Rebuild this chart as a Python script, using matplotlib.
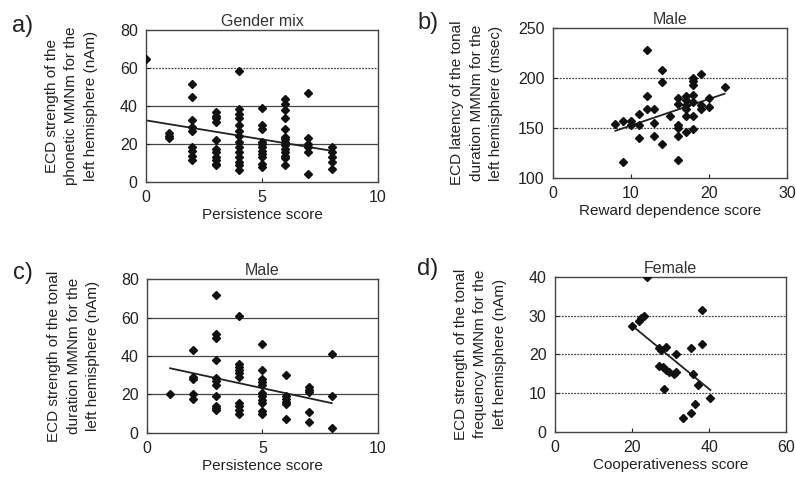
import numpy as np
import matplotlib
matplotlib.use("Agg")
import matplotlib.pyplot as plt

plt.rcParams['font.family'] = ['Liberation Sans', 'DejaVu Sans']

# Panel a: gender mix, persistence vs phonetic MMNm strength
a_x = [0, 1, 1, 1,
       2, 2, 2, 2, 2, 2, 2, 2, 2,
       3, 3, 3, 3, 3, 3, 3, 3, 3, 3, 3,
       4, 4, 4, 4, 4, 4, 4, 4, 4, 4, 4, 4, 4, 4,
       5, 5, 5, 5, 5, 5, 5, 5, 5, 5, 5,
       6, 6, 6, 6, 6, 6, 6, 6, 6, 6, 6, 6, 6, 6,
       7, 7, 7, 7, 7, 7,
       8, 8, 8, 8, 8]
a_y = [65, 26, 24.5, 23,
       51.5, 45, 32.5, 29, 27, 18.5, 16.5, 14, 11.5,
       37, 35, 33.5, 31.5, 22, 17.5, 16, 13, 11.5, 9.5, 9,
       58.5, 38.5, 36, 33.5, 30, 27, 24.5, 21, 18.5, 16, 13, 10.5, 9, 6.5,
       39, 30, 28, 21, 20, 18.5, 16.5, 15, 13, 9.5, 8,
       43.5, 41, 38, 33.5, 28, 23.5, 22.5, 21, 19.5, 17.5, 16, 14, 12.5, 9,
       47, 23, 20, 18.5, 16, 4.5,
       18.5, 16, 13, 10.5, 7]
a_fit = (32.5, -2.0)   # intercept, slope

# Panel b: male, reward dependence vs tonal duration MMNm latency
b_x = [8, 9, 9, 10, 10, 11, 11, 11, 12, 12, 12, 13, 13, 13,
       14, 14, 14, 15, 16, 16, 16, 16, 16, 16,
       17, 17, 17, 17, 17, 17, 18, 18, 18, 18, 18, 18, 18,
       19, 19, 19, 20, 20, 22]
b_y = [154, 157, 116, 157, 153, 164, 153, 140, 228, 182, 169, 169, 155, 142,
       208, 196, 134, 162, 180, 174, 153, 150, 142, 118,
       182, 178, 173, 169, 162, 146, 200, 197, 193, 183, 176, 162, 149,
       204, 173, 169, 180, 171, 191]
b_fit = (126.0, 2.65)

# Panel c: male, persistence vs tonal duration MMNm strength
c_x = [1, 2, 2, 2, 2, 2,
       3, 3, 3, 3, 3, 3, 3, 3, 3, 3, 3,
       4, 4, 4, 4, 4, 4, 4, 4, 4, 4,
       5, 5, 5, 5, 5, 5, 5, 5, 5, 5, 5,
       6, 6, 6, 6, 6, 6,
       7, 7, 7, 7, 7,
       8, 8, 8]
c_y = [20, 43, 29, 28, 20, 17.5,
       72, 51.5, 49.5, 38, 28.5, 27, 25, 19, 14, 13, 12,
       61, 36, 34, 32.5, 31, 29, 15.5, 14, 12, 9.5,
       46, 32.5, 28, 26.5, 25, 20.5, 19, 17, 15.5, 11.5, 10,
       30, 19, 17.5, 16, 15, 7,
       24, 22.5, 21, 11, 5.5,
       41, 19, 2.5]
c_fit = (36.2, -2.6)

# Panel d: female, cooperativeness vs tonal frequency MMNm strength
d_x = [24, 20, 21.8, 22.4, 23, 27, 27.6, 28.9, 31.3, 35.3, 38.2, 38.2,
       27, 28, 28.9, 29.7, 30.8, 31.3, 28.3, 35.9, 37, 36.2, 35.3, 33.2, 40.3]
d_y = [40, 27.3, 28.5, 29.3, 30, 21.5, 21, 21.8, 20, 21.5, 22.7, 31.5,
       17, 16.6, 16, 15.3, 14.9, 15.3, 11, 15, 12, 7.2, 4.7, 3.6, 8.6]
d_fit = (43.8, -0.82)

dot = (0, (1.5, 1))
panels = [
    dict(label="a)", title="Gender mix", x=a_x, y=a_y, fit=a_fit,
         xlim=(0, 10), xticks=[0, 5, 10], ylim=(0, 80), yticks=[0, 20, 40, 60, 80],
         grid=[20, 40, 60], gstyle=["-", "-", dot],
         xlabel="Persistence score",
         ylabel="ECD strength of the\nphonetic MMNm for the\nleft hemisphere (nAm)",
         rect=[0.1834, 0.619, 0.2915, 0.318], ylx=-0.207, lab=(-0.578, 1.10)),
    dict(label="b)", title="Male", x=b_x, y=b_y, fit=b_fit,
         xlim=(0, 30), xticks=[0, 10, 20, 30], ylim=(100, 250), yticks=[100, 150, 200, 250],
         grid=[150, 200], gstyle=[dot, dot],
         xlabel="Reward dependence score",
         ylabel="ECD latency of the tonal\nduration MMNm for the\nleft hemisphere (msec)",
         rect=[0.6947, 0.6276, 0.294, 0.3138], ylx=-0.212, lab=(-0.581, 1.107)),
    dict(label="c)", title="Male", x=c_x, y=c_y, fit=c_fit,
         xlim=(0, 10), xticks=[0, 5, 10], ylim=(0, 80), yticks=[0, 20, 40, 60, 80],
         grid=[20, 40, 60], gstyle=["-", "-", "-"],
         xlabel="Persistence score",
         ylabel="ECD strength of the tonal\nduration MMNm for the\nleft hemisphere (nAm)",
         rect=[0.1847, 0.0948, 0.290, 0.321], ylx=-0.203, lab=(-0.58, 1.11)),
    dict(label="d)", title="Female", x=d_x, y=d_y, fit=d_fit,
         xlim=(0, 60), xticks=[0, 20, 40, 60], ylim=(0, 40), yticks=[0, 10, 20, 30, 40],
         grid=[10, 20, 30], gstyle=[dot, dot, dot],
         xlabel="Cooperativeness score",
         ylabel="ECD strength of the tonal\nfrequency MMNm for the\nleft hemisphere (nAm)",
         rect=[0.697, 0.0969, 0.291, 0.324], ylx=-0.208, lab=(-0.595, 1.12)),
]

fig = plt.figure(figsize=(7.96, 4.78), dpi=100)

for p in panels:
    ax = fig.add_axes(p["rect"])
    for g, st in zip(p["grid"], p["gstyle"]):
        ax.axhline(g, color="#444444", lw=0.9, ls=st, zorder=1)
    ax.plot(p["x"], p["y"], "D", color="#111111", ms=3.6, zorder=3)
    xs = np.array([min(p["x"]), max(p["x"])])
    b0, b1 = p["fit"]
    ax.plot(xs, b0 + b1 * xs, color="#222222", lw=1.3, zorder=2)
    ax.set_xlim(*p["xlim"])
    ax.set_ylim(*p["ylim"])
    ax.set_xticks(p["xticks"])
    ax.set_yticks(p["yticks"])
    ax.tick_params(direction="in", length=3, labelsize=11.5, colors="#222222", pad=6)
    for s in ax.spines.values():
        s.set_color("#444444")
        s.set_linewidth(1.0)
    ax.set_title(p["title"], fontsize=11.5, color="#333333", pad=3)
    ax.set_xlabel(p["xlabel"], fontsize=11, color="#222222", labelpad=2)
    ax.set_ylabel(p["ylabel"], fontsize=11, color="#222222", linespacing=1.5)
    ax.yaxis.set_label_coords(p["ylx"], 0.5)
    ax.text(p["lab"][0], p["lab"][1], p["label"], transform=ax.transAxes, fontsize=17,
            va="top", ha="left", color="#222222")

fig.savefig("out.png", dpi=100)
